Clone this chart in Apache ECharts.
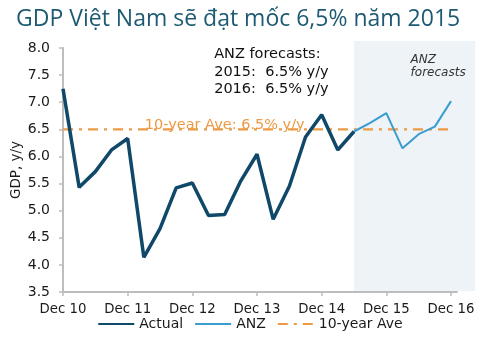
<!DOCTYPE html>
<html><head><meta charset="utf-8">
<script src="https://cdn.jsdelivr.net/npm/echarts@6/dist/echarts.min.js"></script>
<style>html,body{margin:0;padding:0;background:#fff}#c{width:500px;height:341px}</style>
</head><body><div id="c"></div>
<script>
const quarters = ['Dec 10','Mar 11','Jun 11','Sep 11','Dec 11','Mar 12','Jun 12','Sep 12','Dec 12','Mar 13','Jun 13','Sep 13','Dec 13','Mar 14','Jun 14','Sep 14','Dec 14','Mar 15','Jun 15','Sep 15','Dec 15','Mar 16','Jun 16','Sep 16','Dec 16'];
const actualValues = [7.25, 5.43, 5.72, 6.12, 6.33, 4.14, 4.67, 5.42, 5.51, 4.91, 4.93, 5.55, 6.04, 4.84, 5.45, 6.36, 6.77, 6.12, 6.46];
const anzValues = [6.46, 6.62, 6.80, 6.15, 6.41, 6.55, 7.02];
const anzStart = 18;
const tenYearAve = 6.5;
const tickLabels = ['Dec 10','Dec 11','Dec 12','Dec 13','Dec 14','Dec 15','Dec 16'];
const tickIdx = [0,4,8,12,16,20,24];
const forecastStart = 18;

const actualData = actualValues.map((v,i)=>[i,v]);
const anzData = anzValues.map((v,i)=>[anzStart+i,v]);
const aveData = [[0,tenYearAve],[quarters.length-1,tenYearAve]];

const chart = echarts.init(document.getElementById('c'), null, {renderer:'canvas'});
const font = 'DejaVu Sans, Verdana, sans-serif';
chart.setOption({
  animation:false,
  title:{text:'GDP Việt Nam sẽ đạt mốc 6,5% năm 2015', left:11, top:3,
    textStyle:{fontFamily:'Open Sans, sans-serif', fontSize:23, fontWeight:'normal', color:'#1e5a73'}},
  grid:{left:63, right:43, top:48, bottom:49, containLabel:false, outerBoundsMode:'none'},
  xAxis:{type:'value', min:0, max:24.37,
    axisLine:{lineStyle:{color:'#bdbdbd', width:2}},
    axisTick:{show:true, length:4, lineStyle:{color:'#bdbdbd', width:1.5}, customValues:tickIdx},
    axisLabel:{customValues:tickIdx, formatter:(v)=>tickLabels[tickIdx.indexOf(Math.round(v))]||'', color:'#1a1a1a', fontFamily:font, fontSize:13.3, margin:11},
    splitLine:{show:false}},
  yAxis:{type:'value', min:3.5, max:8, interval:0.5, name:'GDP, y/y', nameLocation:'middle', nameGap:40, nameMoveOverlap:false,
    nameTextStyle:{fontFamily:font, fontSize:13.5, color:'#1a1a1a'},
    axisLine:{show:true, lineStyle:{color:'#bdbdbd', width:2}},
    axisTick:{show:true, length:4, lineStyle:{color:'#bdbdbd', width:1.5}},
    axisLabel:{formatter:(v)=>v.toFixed(1), color:'#1a1a1a', fontFamily:font, fontSize:14, margin:13},
    splitLine:{show:false}},
  legend:{bottom:5, left:'center', itemWidth:36, itemHeight:10, itemGap:11,
    itemStyle:{color:'rgba(0,0,0,0)', borderWidth:0},
    textStyle:{fontFamily:font, fontSize:14, color:'#1a1a1a'},
    data:['Actual','ANZ','10-year Ave']},
  series:[
    {name:'Actual', type:'line', data:actualData, symbol:'none', z:5,
      lineStyle:{color:'#0f4868', width:3.5}, itemStyle:{color:'#0f4868'}},
    {name:'ANZ', type:'line', data:anzData, symbol:'none', z:4,
      lineStyle:{color:'#3a9ccf', width:2}, itemStyle:{color:'#3a9ccf'}},
    {name:'10-year Ave', type:'line', data:aveData, symbol:'none', z:3,
      lineStyle:{color:'#ec9a45', width:2.2, type:[10,6,3,6]}, itemStyle:{color:'#ec9a45'}}
  ]
});

// shaded forecast region (extends beyond axis end), placed through the chart's own scales
const p0 = chart.convertToPixel({gridIndex:0}, [forecastStart, 8.13]);
const p1 = chart.convertToPixel({gridIndex:0}, [25.5, 3.5]);
const lbl = chart.convertToPixel({gridIndex:0}, [10, tenYearAve]);
const ann = chart.convertToPixel({gridIndex:0}, [9.35, 8.04]);
const fc = chart.convertToPixel({gridIndex:0}, [21.5, 7.9]);
chart.setOption({
  graphic:[
    {type:'rect', z:-10, silent:true, shape:{x:p0[0], y:p0[1], width:p1[0]-p0[0], height:p1[1]-p0[1]-1}, style:{fill:'#eef3f8'}},
    {type:'text', z:10, x:lbl[0], y:lbl[1]-4, style:{text:'10-year Ave: 6.5% y/y', fill:'#ec9a45', font:'14.5px DejaVu Sans, Verdana, sans-serif', textAlign:'center', textVerticalAlign:'middle'}},
    {type:'text', z:10, x:ann[0], y:ann[1], style:{text:'ANZ forecasts:\n2015:  6.5% y/y\n2016:  6.5% y/y', fill:'#111', font:'14.5px DejaVu Sans, Verdana, sans-serif', lineHeight:17.5}},
    {type:'text', z:10, x:fc[0], y:fc[1], style:{text:'ANZ\nforecasts', fill:'#333', font:'italic 12px DejaVu Sans, Verdana, sans-serif', lineHeight:13}}
  ]
});
</script></body></html>
